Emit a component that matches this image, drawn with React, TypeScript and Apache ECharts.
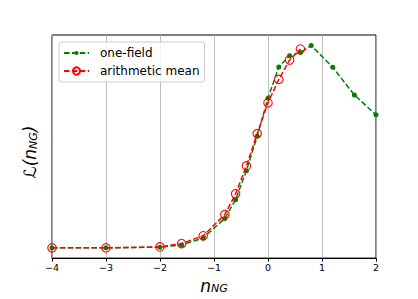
import React, { useEffect, useRef } from "react";
import * as echarts from "echarts";

const xOneField = [-4, -3, -2, -1.6, -1.2, -0.8, -0.6, -0.4, -0.2, 0, 0.2, 0.4, 0.6, 0.8, 1.2, 1.6, 2];
const yOneField = [0.046, 0.046, 0.049, 0.059, 0.09, 0.178, 0.262, 0.392, 0.546, 0.717, 0.857, 0.907, 0.922, 0.953, 0.855, 0.731, 0.642];
const xMean = [-4, -3, -2, -1.6, -1.2, -0.8, -0.6, -0.4, -0.2, 0, 0.2, 0.4, 0.6];
const yMean = [0.046, 0.046, 0.05, 0.065, 0.1, 0.195, 0.288, 0.413, 0.558, 0.696, 0.801, 0.888, 0.937];
const xTicks = [-4, -3, -2, -1, 0, 1, 2];
const seriesNames = ["one-field", "arithmetic mean"];

const FONT = "DejaVu Sans";
// small filled dot inside a larger (invisible) box so legend and chart dots stay small
const DOT = "path://M0,0M14,14M3,7A4,4 0 1,1 11,7A4,4 0 1,1 3,7Z";

export default function App() {
  const ref = useRef<HTMLDivElement>(null);
  useEffect(() => {
    if (!ref.current) return;
    const chart = echarts.init(ref.current, undefined, { renderer: "svg" });
    const dash = [5.5, 2.4];
    chart.setOption({
      animation: false,
      backgroundColor: "#fff",
      textStyle: { fontFamily: FONT },
      grid: {
        left: 52,
        right: 42,
        top: 35,
        bottom: 38,
        show: true,
        borderColor: "#000",
        borderWidth: 1,
        backgroundColor: "transparent",
      },
      legend: {
        left: 59,
        top: 42,
        orient: "vertical",
        itemWidth: 25,
        itemHeight: 9,
        itemGap: 4,
        padding: [4, 5, 4, 4],
        borderColor: "#ccc",
        borderWidth: 1,
        borderRadius: 3,
        backgroundColor: "rgba(255,255,255,0.8)",
        textStyle: { fontFamily: FONT, fontSize: 12, color: "#000", padding: [0, 0, 0, 6], lineHeight: 14 },
        data: seriesNames,
      },
      xAxis: {
        type: "value",
        min: -4,
        max: 2,
        interval: 1,
        axisLine: { show: true, lineStyle: { color: "#000", width: 1 } },
        axisTick: { show: true, length: 3.5, lineStyle: { color: "#000" } },
        axisLabel: {
          fontFamily: FONT,
          fontSize: 9.5,
          color: "#000",
          margin: 4,
          formatter: (v: number) => (xTicks.includes(v) ? String(v).replace("-", "\u2212") : ""),
        },
        splitLine: { show: true, lineStyle: { color: "#b0b0b0", width: 0.8 } },
        name: "n{sub|NG}",
        nameLocation: "middle",
        nameGap: 18,
        nameTextStyle: {
          fontFamily: FONT,
          fontStyle: "italic",
          fontSize: 17,
          color: "#000",
          rich: {
            sub: { fontFamily: FONT, fontStyle: "italic", fontSize: 11, color: "#000", verticalAlign: "bottom", padding: [6, 0, 0, 0] },
          },
        },
      },
      yAxis: {
        type: "value",
        min: 0,
        max: 1,
        axisLine: { show: false },
        axisTick: { show: false },
        axisLabel: { show: false },
        splitLine: { show: false },
      },
      graphic: [
        {
          type: "text",
          x: 30,
          y: 152,
          rotation: Math.PI / 2,
          style: {
            text: "\u2112(n{sub|NG})",
            fontFamily: FONT,
            fontStyle: "italic",
            fontSize: 17,
            fill: "#000",
            align: "center",
            verticalAlign: "middle",
            rich: {
              sub: { fontFamily: FONT, fontStyle: "italic", fontSize: 11, fill: "#000", verticalAlign: "bottom", padding: [6, 0, 0, 0] },
            },
          },
        },
      ],
      series: [
        {
          name: seriesNames[0],
          type: "line",
          data: xOneField.map((x, i) => [x, yOneField[i]]),
          symbol: DOT,
          symbolSize: 8.75,
          itemStyle: { color: "#008000" },
          lineStyle: { color: "#008000", width: 1.5, type: dash },
          z: 2,
        },
        {
          name: seriesNames[1],
          type: "line",
          data: xMean.map((x, i) => [x, yMean[i]]),
          symbol: "circle",
          symbolSize: 8.5,
          showAllSymbol: true,
          itemStyle: { color: "rgba(0,0,0,0)", borderColor: "#ff0000", borderWidth: 1.1 },
          lineStyle: { color: "#ff0000", width: 1.5, type: dash },
          z: 3,
        },
      ],
    });
    return () => chart.dispose();
  }, []);
  return <div ref={ref} style={{ width: 418, height: 299, position: "absolute", left: 0, top: 0 }} />;
}
